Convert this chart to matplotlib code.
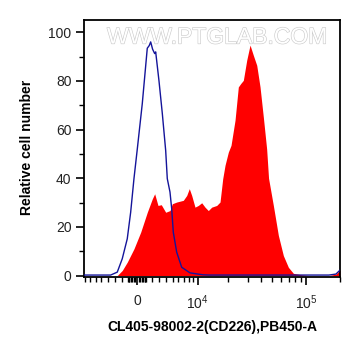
import numpy as np
import matplotlib
matplotlib.use("Agg")
import matplotlib.pyplot as plt
import matplotlib.patheffects as pe

plt.rcParams['font.family'] = ['Liberation Sans', 'DejaVu Sans']
plt.rcParams['mathtext.default'] = 'regular'

# histogram outlines (fluorescence, % of max)
red_x = [-8000, -2611, -1926, -1260, -388, 478, 1339, 2007, 2335, 2795, 3267, 3919,
         4591, 4961, 5707, 6912, 7581, 8116, 8632, 9374, 10160, 11017, 11901, 12840,
         13867, 15504, 16672, 17683, 18587, 19958, 21146, 23025, 24693, 25977, 27439,
         29466, 31573, 33824, 36304, 38876, 41630, 44588, 46362, 51191, 56762, 62912,
         69731, 77283, 91839, 105150, 160000, 185000, 201000]
red_y = [0, 0, 2.1, 5.5, 11, 17.8, 26, 31.5, 33.6, 28.8, 29.1, 26,
         26.7, 29.5, 30.2, 30.9, 32.9, 35.7, 32.9, 28.1, 28.8, 29.9, 28.1, 26.7,
         28.1, 28.8, 30.2, 39.8, 45.3, 50.7, 53.5, 63.8, 77.5, 78.9, 80.2,
         88.5, 94.7, 90.5, 86.4, 77.5, 65.1, 52, 40, 28.8, 16.5, 8.2,
         3.4, 0.9, 0.3, 0, 0, 0.6, 2.2]

blue_x = [-8250, -3560, -2611, -1926, -1260, -815, -388, 60, 685, 1339, 1600, 1791,
          2050, 2335, 2473, 2936, 3413, 3919, 4166, 4591, 4865, 5130, 5707, 6609,
          8264, 11360, 13046, 160000, 185000, 201000]
blue_y = [0.2, 0.2, 1.4, 6.9, 15.1, 26, 39.8, 52.5, 70.6, 93.4, 94.5, 96,
          93, 91.2, 91.9, 80, 66.7, 51.4, 39.8, 34.3, 27.4, 17.8, 9.6, 3.4,
          1.1, 0.3, 0.2, 0.2, 0.6, 2.2]

C = 6300.0


def fwd(x):
    return np.arcsinh(np.asarray(x, dtype=float) / C)


def inv(u):
    return C * np.sinh(np.asarray(u, dtype=float))


fig = plt.figure(figsize=(3.61, 3.56), dpi=100)
ax = fig.add_axes([0.2327, 0.2219, 0.7091, 0.7219])
ax.set_xscale('function', functions=(fwd, inv))

ax.fill_between(red_x, red_y, 0, color='#ff0000', linewidth=0, zorder=2)
ax.plot(blue_x, blue_y, color='#14149a', linewidth=1.0, zorder=3)

ax.set_xlim(-8250, 201000)
ax.set_ylim(-0.6, 105)

major = [0, 1e4, 1e5]
ax.set_xticks(major)
ax.set_xticklabels(['0', '$10^4$', '$10^5$'])
minor = [k * 1000 for k in range(-8, 10) if k != 0]
minor += [k * 200 for k in range(-6, 7) if k != 0]
minor += [k * 1e4 for k in range(2, 10)] + [2e5]
ax.set_xticks(minor, minor=True)

ax.set_yticks(range(0, 101, 20))
ax.set_yticks(range(10, 101, 20), minor=True)

ax.tick_params(axis='both', which='major', length=6, width=1.2, labelsize=10,
               colors='black', labelcolor='#222222', pad=3)
ax.tick_params(axis='both', which='minor', length=3.5, width=1.0)
ax.tick_params(axis='x', which='major', pad=6)
for s in ax.spines.values():
    s.set_linewidth(1.3)

fig.text(0.587, 0.082, 'CL405-98002-2(CD226),PB450-A', ha='center', va='center',
         fontsize=10, fontweight='bold')
fig.text(0.075, 0.585, 'Relative cell number', ha='center', va='center',
         rotation=90, fontsize=10, fontweight='bold')

fig.text(0.601, 0.896, 'WWW.PTGLAB.COM', ha='center', va='center', fontsize=16.5,
         color='white', zorder=5,
         path_effects=[pe.withStroke(linewidth=0.9, foreground='#cccccc')])

fig.savefig('out.png', dpi=100)
